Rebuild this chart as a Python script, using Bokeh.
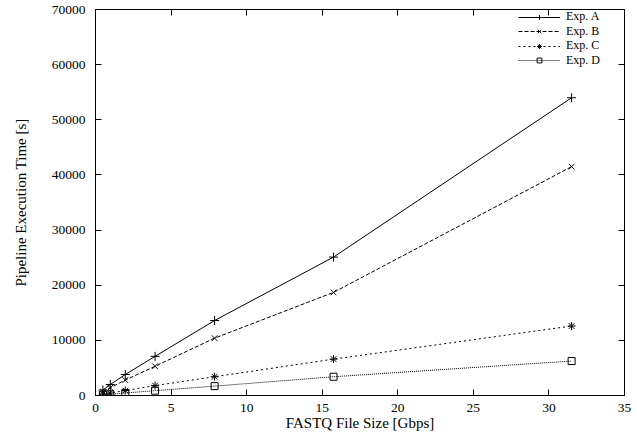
from bokeh.plotting import figure
from bokeh.models import Range1d, FixedTicker, LinearAxis, CustomJSTickFormatter, Legend, LegendItem
from bokeh.embed import file_html
from bokeh.resources import INLINE

# Data
file_size = [0.49, 0.98, 1.97, 3.94, 7.88, 15.75, 31.5]
exp_a = [1000, 2000, 3800, 7100, 13600, 25100, 54000]
exp_b = [700, 1400, 2800, 5300, 10400, 18700, 41500]
exp_c = [250, 450, 900, 1800, 3400, 6600, 12600]
exp_d = [120, 220, 450, 880, 1700, 3400, 6250]

series_names = ["Exp. A", "Exp. B", "Exp. C", "Exp. D"]
x_ticks = [0, 5, 10, 15, 20, 25, 30, 35]
y_ticks = [0, 10000, 20000, 30000, 40000, 50000, 60000, 70000]

FONT = "Liberation Serif"

p = figure(width=637, height=440, output_backend="svg", toolbar_location=None,
           x_range=Range1d(0, 35), y_range=Range1d(0, 70000),
           min_border_left=95, min_border_right=13, min_border_top=9, min_border_bottom=45)
p.xgrid.visible = False
p.ygrid.visible = False
p.outline_line_color = "black"
p.outline_line_alpha = 1
p.outline_line_width = 1
p.background_fill_color = "white"
p.border_fill_color = "white"

for ax in (p.xaxis[0], p.yaxis[0]):
    ax.major_tick_in = 6
    ax.major_tick_out = 0
    ax.minor_tick_line_color = None
    ax.axis_line_color = "black"
    ax.major_tick_line_color = "black"
    ax.major_label_text_font = FONT
    ax.major_label_text_font_size = "13.5px"
    ax.major_label_text_color = "black"
    ax.axis_label_text_font = FONT
    ax.axis_label_text_font_size = "15px"
    ax.axis_label_text_font_style = "normal"
    ax.axis_label_text_color = "black"

p.xaxis[0].ticker = FixedTicker(ticks=x_ticks)
p.yaxis[0].ticker = FixedTicker(ticks=y_ticks)
p.xaxis[0].axis_label = "FASTQ File Size [Gbps]"
p.yaxis[0].axis_label = "Pipeline Execution Time [s]"
p.xaxis[0].major_label_standoff = 8
p.xaxis[0].axis_label_standoff = 0
p.yaxis[0].major_label_standoff = 10
p.yaxis[0].axis_label_standoff = 20

# mirrored ticks on top and right
empty = CustomJSTickFormatter(code="return ''")
top = LinearAxis(ticker=FixedTicker(ticks=x_ticks), formatter=empty)
right = LinearAxis(ticker=FixedTicker(ticks=y_ticks), formatter=empty)
for ax in (top, right):
    ax.major_tick_in = 6
    ax.major_tick_out = 0
    ax.minor_tick_line_color = None
    ax.axis_line_color = None
    ax.major_label_standoff = 0
    ax.major_label_text_font_size = "0px"
p.add_layout(top, "above")
p.add_layout(right, "right")

series = [exp_a, exp_b, exp_c, exp_d]
dashes = ["solid", "4 2", "2 3", "1 1"]
markers = ["cross", "x", "asterisk", "square"]
sizes = [9, 8, 8, 7]

# one single-entry legend per series, stacked like gnuplot's key
legend_bottoms = [371, 356.5, 342, 327.5]

for name, ys, dash, mk, sz, lb in zip(series_names, series, dashes, markers, sizes, legend_bottoms):
    l = p.line(file_size, ys, line_color="black", line_width=1, line_dash=dash)
    s = p.scatter(file_size, ys, marker=mk, size=sz, line_color="black",
                  fill_color=None, line_width=1)
    lg = Legend(items=[LegendItem(label=name, renderers=[l, s])], location=(423, lb))
    lg.border_line_color = None
    lg.background_fill_alpha = 0
    lg.label_text_font = FONT
    lg.label_text_font_size = "12px"
    lg.label_text_color = "black"
    lg.glyph_width = 42
    lg.glyph_height = 12
    lg.label_height = 12
    lg.spacing = 0
    lg.padding = 0
    lg.margin = 0
    lg.label_standoff = 6
    p.add_layout(lg)

open("out.html", "w").write(file_html(p, INLINE))
